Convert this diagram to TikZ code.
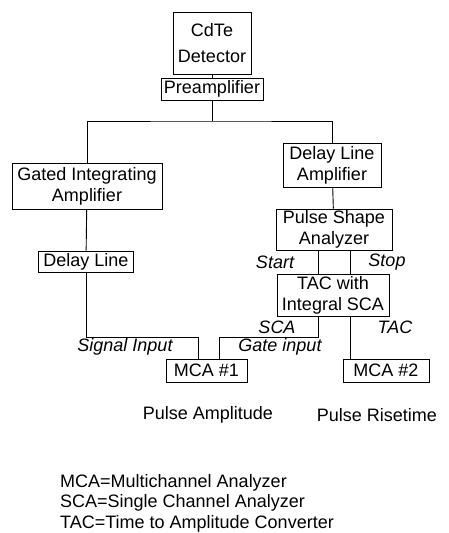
\documentclass[tikz,border=0pt]{standalone}
\usepackage{fontspec}
\setmainfont{Liberation Sans}
\usetikzlibrary{positioning}

\begin{document}
\begin{tikzpicture}[
    x=1pt, y=-1pt,
    box/.style = {rectangle, draw, line width=0.9pt, align=center, inner sep=0pt, font=\fontsize{18}{21}\selectfont},
    lbl/.style = {font=\fontsize{18}{21}\selectfont\itshape, inner sep=0pt},
    txt/.style = {font=\fontsize{18}{20.5}\selectfont, inner sep=0pt},
    line/.style = {draw, line width=0.9pt}
]
    \useasboundingbox (0,0) rectangle (448,533);

    % Nodes - top
    \node (det) [box, minimum width=78pt, minimum height=62pt] at (212,43) {CdTe\\[5pt]Detector};
    \node (pre) [box, minimum width=102pt, minimum height=22pt] at (212,89) {Preamplifier};

    % Nodes - amplitude branch
    \node (gia) [box, minimum width=150pt, minimum height=46pt] at (87,186) {Gated Integrating\\Amplifier};
    \node (dl) [box, minimum width=95pt, minimum height=21pt] at (86,261.5) {Delay Line};

    % Nodes - risetime branch
    \node (dla) [box, minimum width=98pt, minimum height=44pt] at (332,165) {Delay Line\\Amplifier};
    \node (psa) [box, minimum width=116pt, minimum height=41pt] at (334,229.5) {Pulse Shape\\Analyzer};
    \node (tac) [box, minimum width=112pt, minimum height=42pt] at (333,295) {TAC with\\Integral SCA};

    % Nodes - analyzers
    \node (mca1) [box, minimum width=81pt, minimum height=23pt] at (206.5,370.5) {MCA \#1};
    \node (mca2) [box, minimum width=86pt, minimum height=23pt] at (386,370.5) {MCA \#2};

    % Joints
    \coordinate (split) at (212,121);
    \coordinate (sigjoin) at (198,337);
    \coordinate (gatejoin) at (219,337);

    % Edges - main flow
    \path [line] (det) -- (pre);
    \path [line] (pre) -- (split);
    \path [line] (gia.north) |- (split) -| (dla.north);
    \path [line] (gia) -- (dl);
    \path [line] (dla) -- (psa);
    \path [line] ([xshift=-16pt]psa.south) -- ([xshift=-15pt]tac.north);
    \path [line] ([xshift=16pt]psa.south) -- ([xshift=17pt]tac.north);

    % Edges - into the MCAs
    \path [line] (dl.south) |- (sigjoin) -- (sigjoin |- mca1.north);
    \path [line] ([xshift=-15pt]tac.south) |- (gatejoin) -- (gatejoin |- mca1.north);
    \path [line] ([xshift=17pt]tac.south) -- ([xshift=-36pt]mca2.north);

    % Connector labels
    \node (start) [lbl] at (275,262) {Start};
    \node (stop) [lbl] at (387,262) {Stop};
    \node (sca) [lbl] at (277,327) {SCA};
    \node (tacout) [lbl] at (395,327) {TAC};
    \node (sigin) [lbl] at (125,347) {Signal Input};
    \node (gatein) [lbl] at (280,347) {Gate input};

    % Captions
    \node (pamp) [txt] at (208,415) {Pulse Amplitude};
    \node (prise) [txt] at (377,415) {Pulse Risetime};
    \node (legend) [txt, align=left, anchor=west] at (60,503) {MCA=Multichannel Analyzer\\SCA=Single Channel Analyzer\\TAC=Time to Amplitude Converter};

\end{tikzpicture}
\end{document}
